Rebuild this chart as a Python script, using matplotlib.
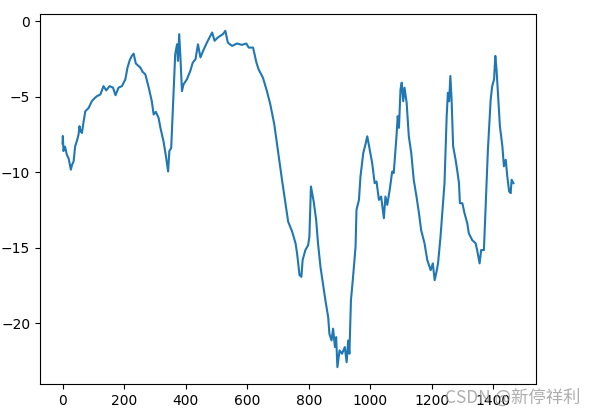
import matplotlib.pyplot as plt

# values (step index, value)
steps = [0, 1, 3, 8, 14, 20, 27, 31, 36, 41, 47, 52, 55, 59, 63, 68, 74, 85, 95, 104,
         112, 123, 133, 142, 153, 164, 172, 182, 193, 204, 211, 218, 225, 231, 238, 253,
         260, 269, 280, 290, 296, 303, 312, 318, 328, 336, 343, 347, 353, 361, 366, 372,
         375, 379, 383, 388, 393, 404, 415, 423, 432, 440, 448, 459, 469, 486, 494, 504,
         513, 521, 529, 537, 551, 567, 583, 597, 605, 619, 630, 637, 651, 664, 675, 688,
         697, 706, 713, 724, 733, 746, 757, 762, 770, 776, 780, 789, 798, 802, 807, 811,
         816, 824, 830, 838, 849, 854, 863, 867, 874, 879, 885, 889, 893, 900, 908, 917,
         923, 928, 932, 937, 943, 952, 955, 963, 968, 977, 984, 990, 998, 1006, 1014,
         1020, 1028, 1035, 1044, 1049, 1055, 1063, 1071, 1076, 1085, 1089, 1093, 1098,
         1102, 1107, 1111, 1118, 1125, 1133, 1141, 1150, 1158, 1165, 1176, 1185, 1196,
         1203, 1209, 1215, 1220, 1228, 1233, 1241, 1248, 1252, 1256, 1260, 1264, 1269,
         1277, 1282, 1288, 1291, 1299, 1306, 1315, 1320, 1331, 1342, 1347, 1355, 1360,
         1369, 1375, 1382, 1391, 1396, 1402, 1406, 1410, 1415, 1421, 1429, 1434, 1440,
         1445, 1451, 1456, 1459, 1465]
values = [-8.1, -7.6, -8.6, -8.3, -8.84, -9.1, -9.83, -9.5, -9.28, -8.28, -7.9, -7.5,
          -6.95, -7.3, -7.4, -6.7, -5.96, -5.74, -5.3, -5.1, -4.96, -4.85, -4.3, -4.58,
          -4.3, -4.4, -4.9, -4.4, -4.3, -3.85, -3.08, -2.6, -2.3, -2.15, -2.8, -3.08,
          -3.35, -3.52, -4.4, -5.3, -6.18, -6.0, -6.4, -7.06, -7.95, -8.95, -9.95, -8.6,
          -8.4, -4.63, -2.2, -1.53, -2.63, -0.86, -2.4, -4.63, -4.19, -3.85, -3.3, -2.75,
          -2.52, -1.53, -2.4, -1.86, -1.42, -0.75, -1.3, -1.09, -0.97, -0.86, -0.64,
          -1.42, -1.64, -1.48, -1.57, -1.48, -1.75, -1.75, -2.75, -3.19, -3.74, -4.63,
          -5.51, -6.84, -8.17, -9.5, -10.5, -12.05, -13.27, -13.93, -14.7, -15.37,
          -16.81, -16.92, -15.81, -15.15, -14.82, -14.27, -10.94, -11.38, -11.94,
          -13.16, -14.7, -16.26, -17.81, -18.47, -19.58, -20.69, -21.13, -20.35, -21.57,
          -20.91, -22.9, -21.79, -22.01, -21.57, -22.57, -21.13, -22.01, -18.47, -17.14,
          -14.93, -12.49, -11.83, -10.28, -8.73, -8.17, -7.62, -8.5, -9.39, -10.72,
          -10.61, -11.83, -11.61, -13.04, -11.61, -12.16, -11.16, -9.95, -10.05, -7.62,
          -6.29, -7.06, -4.52, -4.07, -5.3, -4.4, -5.4, -7.62, -8.73, -10.5, -11.61,
          -12.71, -13.82, -14.7, -15.81, -16.48, -16.03, -17.14, -16.59, -16.03, -14.27,
          -12.94, -10.72, -6.29, -4.74, -5.3, -3.63, -5.18, -8.28, -9.17, -9.83, -10.72,
          -12.05, -12.05, -12.71, -13.38, -14.04, -14.49, -14.7, -15.15, -16.03, -15.15,
          -15.15, -12.05, -8.5, -5.18, -4.3, -3.85, -2.3, -3.19, -4.96, -6.96, -8.28,
          -9.61, -9.17, -10.28, -11.27, -11.38, -10.5, -10.72]

fig = plt.figure(figsize=(5.97, 4.16), dpi=100)
ax = fig.add_axes([40 / 597, 32 / 416, 496 / 597, 370 / 416])
ax.plot(steps, values)

# watermark
fig.text(0.745, 0.045, 'CSDN @新停祥利', fontsize=12.5, color='#9a9a9a', alpha=0.8,
         family=['Noto Sans CJK SC', 'DejaVu Sans'], ha='left', va='center')

plt.savefig('out.png', dpi=100)
